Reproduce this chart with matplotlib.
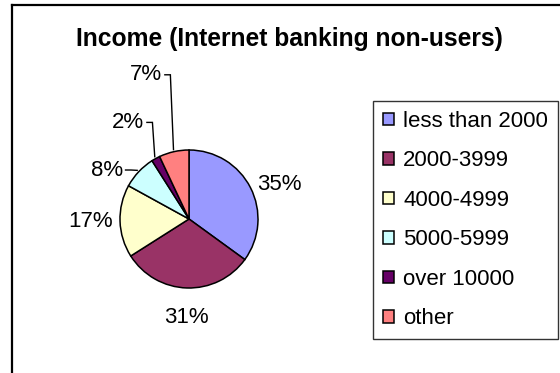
import numpy as np
import matplotlib
matplotlib.use("Agg")
import matplotlib.pyplot as plt
from matplotlib.patches import Patch
from matplotlib.lines import Line2D

# ── data ─────────────────────────────────────────────────────────────────────

TITLE = "Income (Internet banking non-users)"
categories = ["less than 2000", "2000-3999", "4000-4999",
              "5000-5999", "over 10000", "other"]
shares = [35, 31, 17, 8, 2, 7]
colors = ["#9999FF", "#993366", "#FFFFCC", "#CCFFFF", "#660066", "#FF8080"]

# ── layout (pixels on a 560x373 canvas) ─────────────────────────────────────

W, H = 560, 373
CX, CY, R = 189, 219, 69           # pie centre / radius, y from top
FONT = "Liberation Sans"
FS = 16

# label distance for the big slices, callout text spots for the small ones
label_dist = {0: 1.1, 1: 1.28, 2: 1.1}
callout_xy = {3: (-0.96, 0.71), 4: (-0.65, 1.40), 5: (-0.39, 2.09)}

plt.rcParams["font.family"] = [FONT, "DejaVu Sans"]

fig = plt.figure(figsize=(W / 100, H / 100), dpi=100)
ax = fig.add_axes([0, 0, 1, 1])
ax.axis("off")

wedges, _ = ax.pie(shares, colors=colors, startangle=90, counterclock=False,
                   radius=1.0, wedgeprops=dict(edgecolor="black", linewidth=1.1))
ax.set_xlim(-CX / R, (W - CX) / R)
ax.set_ylim(-(H - CY) / R, CY / R)
ax.set_aspect("auto")

for i, (w, v) in enumerate(zip(wedges, shares)):
    mid = np.deg2rad((w.theta1 + w.theta2) / 2)
    c, s = np.cos(mid), np.sin(mid)
    txt = f"{v}%"
    if i in callout_xy:
        tx, ty = callout_xy[i]
        ax.text(tx, ty, txt, ha="right", va="center", fontsize=FS)
        ex, ey = 1.03 * c, 1.03 * s
        ax.plot([tx + 0.04, tx + 0.12, ex], [ty, ty, ey],
                color="black", lw=1.0, solid_joinstyle="miter")
    else:
        d = label_dist[i]
        ha = "left" if c > 0.3 else ("right" if c < -0.3 else "center")
        va = "top" if s < -0.7 else ("bottom" if s > 0.7 else "center")
        ax.text(d * c, d * s, txt, ha=ha, va=va, fontsize=FS)

fig.text(289 / W, 1 - 39 / H, TITLE, ha="center", va="center",
         fontsize=17.7, fontweight="bold")

# chart area border (only the left and top edges fall inside the image)
fig.add_artist(Line2D([12 / W, 12 / W], [-0.1, 1 - 5 / H], color="black",
                      lw=1.6, transform=fig.transFigure))
fig.add_artist(Line2D([12 / W, 1.1], [1 - 5 / H, 1 - 5 / H], color="black",
                      lw=1.6, transform=fig.transFigure))

handles = [Patch(facecolor=c, edgecolor="black", linewidth=1.1) for c in colors]
leg = fig.legend(handles, categories, loc="upper left",
                 bbox_to_anchor=(373 / W, 1 - 101 / H), borderaxespad=0,
                 fontsize=FS, frameon=True, fancybox=False,
                 handlelength=0.5, handleheight=0.5, handletextpad=0.4,
                 borderpad=0.45, labelspacing=0.83)
leg.get_frame().set_edgecolor("black")
leg.get_frame().set_linewidth(1.0)

fig.savefig("out.png", dpi=100)
